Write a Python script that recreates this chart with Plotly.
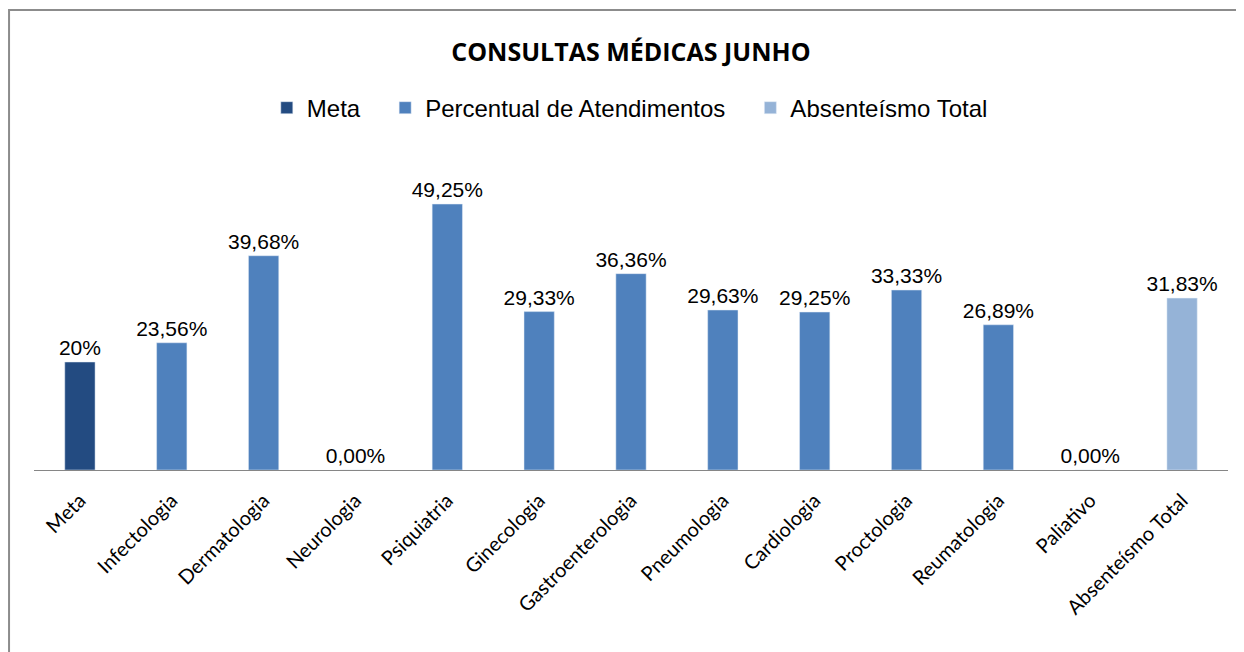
import plotly.graph_objects as go

# dados do gráfico
meta_cat = ["Meta"]
meta_val = [0.20]

especialidades = ["Infectologia", "Dermatologia", "Neurologia", "Psiquiatria",
                  "Ginecologia", "Gastroenterologia", "Pneumologia", "Cardiologia",
                  "Proctologia", "Reumatologia", "Paliativo"]
percentuais = [0.2356, 0.3968, 0.0, 0.4925, 0.2933, 0.3636, 0.2963, 0.2925,
               0.3333, 0.2689, 0.0]

abs_cat = ["Absenteísmo Total"]
abs_val = [0.3183]

categorias = meta_cat + especialidades + abs_cat

# espaço extra entre os itens da legenda
pad = "\u00a0" * 3

fig = go.Figure()
fig.add_trace(go.Bar(x=meta_cat, y=meta_val, name="Meta" + pad,
                     marker_color="#234B81", width=0.33,
                     texttemplate="%{y:.0%}", textposition="outside"))
fig.add_trace(go.Bar(x=especialidades, y=percentuais, name="Percentual de Atendimentos" + pad,
                     marker_color="#4F81BD", width=0.33,
                     texttemplate="%{y:.2%}", textposition="outside"))
fig.add_trace(go.Bar(x=abs_cat, y=abs_val, name="Absenteísmo Total",
                     marker_color="#95B3D7", width=0.33,
                     texttemplate="%{y:.2%}", textposition="outside"))

fig.update_traces(cliponaxis=False, constraintext="none",
                  textfont=dict(family="Liberation Sans, Arial", size=21, color="#000000"))

# a página tem 8px de margem no body: figura um pouco menor que a janela
fig.update_layout(
    width=1236, height=644,
    paper_bgcolor="white", plot_bgcolor="white",
    separators=",.",
    barmode="overlay",
    margin=dict(l=26, r=16, t=138, b=182, autoexpand=False),
    title=dict(text="<b>CONSULTAS MÉDICAS JUNHO</b>", x=0.504, xanchor="center",
               y=0.932, yanchor="middle",
               font=dict(family="Open Sans", size=25, color="#000000")),
    legend=dict(orientation="h", x=0.499, xanchor="center", y=1.117, yanchor="middle",
                font=dict(family="Liberation Sans, Arial", size=24, color="#000000"),
                itemclick=False, traceorder="normal"),
    showlegend=True,
    xaxis=dict(categoryorder="array", categoryarray=categorias, tickangle=-45,
               automargin=False, ticklabelstandoff=10,
               showline=True, linecolor="#868686", linewidth=1, ticks="",
               tickfont=dict(family="Lato, Open Sans", size=20, color="#000000")),
    yaxis=dict(range=[0, 0.6], visible=False, showgrid=False, automargin=False),
    shapes=[dict(type="rect", xref="paper", yref="paper",
                 x0=-0.0209, x1=1.1, y0=-1.0, y1=1.4198,
                 line=dict(color="#8C8C8C", width=2), fillcolor="rgba(0,0,0,0)",
                 layer="below")],
)

fig.write_html("out.html")
